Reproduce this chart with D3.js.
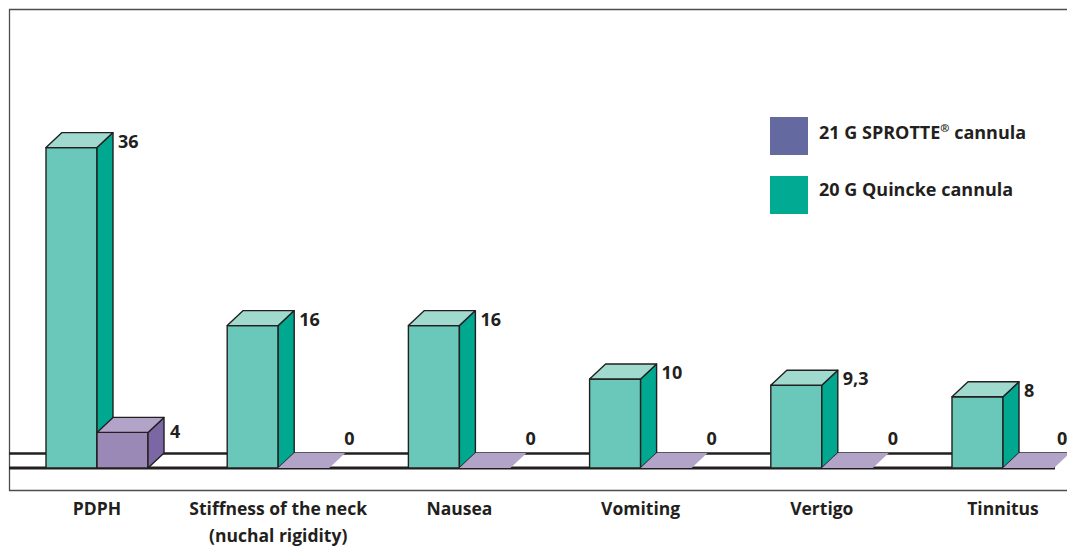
<!DOCTYPE html>
<html>
<head>
<meta charset="utf-8">
<script src="https://cdn.jsdelivr.net/npm/d3@7"></script>
<style>
  body { margin: 0; background: #fff; }
  svg { display: block; font-family: 'Open Sans', 'Noto Sans', sans-serif; }
</style>
</head>
<body>
<svg id="chart" width="1067" height="549"></svg>
<script>
// data
const categories = ['PDPH', 'Stiffness of the neck', 'Nausea', 'Vomiting', 'Vertigo', 'Tinnitus']
const categoryLines = [['PDPH'], ['Stiffness of the neck', '(nuchal rigidity)'], ['Nausea'], ['Vomiting'], ['Vertigo'], ['Tinnitus']]
const quincke = [36, 16, 16, 10, 9.3, 8]
const sprotte = [4, 0, 0, 0, 0, 0]
const seriesNames = ['21 G SPROTTE® cannula', '20 G Quincke cannula']

const svg = d3.select('#chart')
const W = 1067, H = 549
const base = 468, dx = 16, dy = -15, barW = 51
const ink = '#231f20'
const fmt = v => String(v).replace('.', ',')

const x = d3.scaleBand().domain(categories).range([6.4, 1093.6])
const y = d3.scaleLinear().domain([0, 40]).range([base, base - 356])

// frame
svg.append('path')
    .attr('d', `M${W + 5},9.5 H9.5 V490.5 H${W + 5}`)
    .attr('fill', 'none')
    .attr('stroke', '#4d4d4f')
    .attr('stroke-width', 1.3)

// floor
svg.append('line').attr('x1', 9).attr('x2', W + 5).attr('y1', base + dy + 0.5).attr('y2', base + dy + 0.5)
    .attr('stroke', ink).attr('stroke-width', 2.5)
svg.append('line').attr('x1', 9).attr('x2', 1055).attr('y1', base).attr('y2', base)
    .attr('stroke', ink).attr('stroke-width', 3)

function box(g, x0, v, cols) {
    let top = y(v)
    let x1 = x0 + barW
    let faces = [
        { d: `M${x0},${base} H${x1} V${top} H${x0} Z`, c: cols.front },
        { d: `M${x1},${base} L${x1 + dx},${base + dy} V${top + dy} L${x1},${top} Z`, c: cols.side },
        { d: `M${x0},${top} L${x0 + dx},${top + dy} H${x1 + dx} L${x1},${top} Z`, c: cols.top }
    ]
    if (v === 0) faces = [faces[2]]
    g.selectAll(null).data(faces).join('path')
        .attr('d', d => d.d)
        .attr('fill', d => d.c)
        .attr('stroke', v === 0 ? 'none' : ink)
        .attr('stroke-width', 1.4)
        .attr('stroke-linejoin', 'round')
}

const green = { front: '#69c8b9', side: '#00a890', top: '#a0d9ce' }
const purple = { front: '#9a88b6', side: '#7b67a3', top: '#b2a3c8' }

categories.forEach((c, i) => {
    let cx = x(c) + x.bandwidth() / 2
    let g = svg.append('g')
    box(g, cx - barW, quincke[i], green)
    box(g, cx, sprotte[i], purple)

    g.append('text')
        .attr('x', cx + dx + 5)
        .attr('y', Math.min(y(quincke[i]), base - 23))
        .attr('font-size', 18).attr('font-weight', 700).attr('fill', ink)
        .text(fmt(quincke[i]))
    g.append('text')
        .attr('x', Math.min(cx + barW + dx + (sprotte[i] ? 6 : -1), 1057))
        .attr('y', Math.min(y(sprotte[i]) + 6, base - 23))
        .attr('font-size', 18).attr('font-weight', 700).attr('fill', ink)
        .text(fmt(sprotte[i]))

    let t = svg.append('text')
        .attr('text-anchor', 'middle')
        .attr('font-size', 17.5).attr('font-weight', 700).attr('fill', ink)
    t.selectAll('tspan').data(categoryLines[i]).join('tspan')
        .attr('x', cx)
        .attr('y', (d, j) => 515 + j * 27)
        .text(d => d)
})

// legend
const legend = svg.append('g')
const legendCols = ['#646a9f', '#00aa93']
seriesNames.forEach((s, i) => {
    legend.append('rect')
        .attr('x', 770).attr('y', 117 + i * 59).attr('width', 38).attr('height', 38)
        .attr('fill', legendCols[i])
    let t = legend.append('text')
        .attr('x', 819).attr('y', 139 + i * 57)
        .attr('font-size', 18).attr('font-weight', 700).attr('fill', ink)
    let parts = s.split('®')
    t.append('tspan').text(parts[0])
    if (parts.length > 1) {
        t.append('tspan').attr('font-size', 11).attr('dy', -7).text('®')
        t.append('tspan').attr('dy', 7).text(parts[1])
    }
})
</script>
</body>
</html>
